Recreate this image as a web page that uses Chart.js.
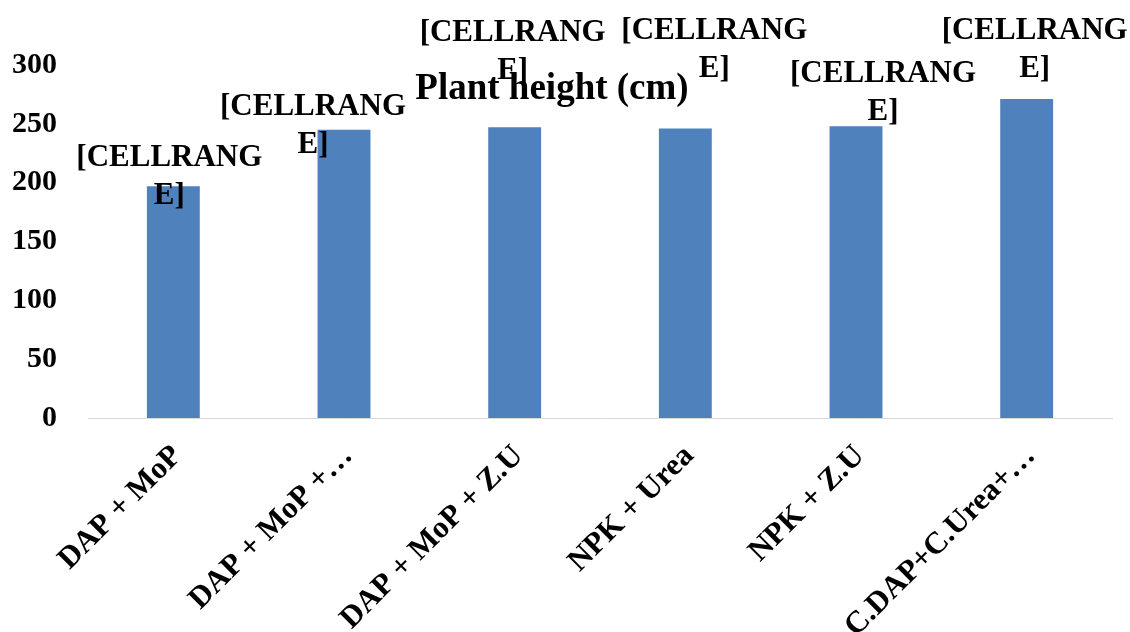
<!DOCTYPE html>
<html>
<head>
<meta charset="utf-8">
<script src="https://cdn.jsdelivr.net/npm/chart.js@4.4.0/dist/chart.umd.min.js"></script>
<style>
  html, body { margin: 0; padding: 0; background: #ffffff; }
  #wrap { width: 1130px; height: 632px; position: relative; }
</style>
</head>
<body>
<div id="wrap"><canvas id="chart" width="1130" height="632"></canvas></div>
<script>
// Treatments on the category axis
const categories = ["DAP + MoP", "DAP + MoP +…", "DAP + MoP + Z.U", "NPK + Urea", "NPK + Z.U", "C.DAP+C.Urea+…"];
// Plant height (cm) per treatment
const plantHeight = [197, 245, 247, 246, 248, 271];
// Value axis ticks
const yTicks = [0, 50, 100, 150, 200, 250, 300];
// Data label text (wrapped over two lines)
const labelLines = ["[CELLRANG", "E]"];

const SERIF = "'Liberation Serif', 'Times New Roman', serif";

// Data labels sit where they were dragged to, relative to each bar's top
const labelOffsets = [[-4, -28], [-31, -23], [-2, -94], [29, -98], [27, -52], [8, -68]];

const dataLabelPlugin = {
  id: 'cellLabels',
  afterDatasetsDraw(chart) {
    const ctx = chart.ctx;
    const meta = chart.getDatasetMeta(0);
    ctx.save();
    ctx.font = "bold 31px " + SERIF;
    ctx.fillStyle = '#000000';
    ctx.textAlign = 'center';
    ctx.textBaseline = 'middle';
    meta.data.forEach((bar, i) => {
      const [dx, dy] = labelOffsets[i];
      labelLines.forEach((line, j) => {
        ctx.fillText(line, bar.x + dx, bar.y + dy + j * 38);
      });
    });
    ctx.restore();
  }
};

const titlePlugin = {
  id: 'floatingTitle',
  afterDraw(chart) {
    const ctx = chart.ctx;
    ctx.save();
    ctx.font = "bold 37px " + SERIF;
    ctx.fillStyle = '#000000';
    ctx.textAlign = 'center';
    ctx.textBaseline = 'alphabetic';
    ctx.fillText('Plant height (cm)', 552, 99);
    ctx.restore();
  }
};

new Chart(document.getElementById('chart'), {
  type: 'bar',
  data: {
    labels: categories,
    datasets: [{
      label: 'Plant height (cm)',
      data: plantHeight,
      backgroundColor: '#4f81bd',
      borderWidth: 0,
      barPercentage: 1,
      categoryPercentage: 0.31
    }]
  },
  options: {
    responsive: false,
    animation: false,
    devicePixelRatio: 1,
    layout: {
      autoPadding: false,
      padding: { top: 65, right: 18, left: 0, bottom: 0 }
    },
    plugins: {
      legend: { display: false },
      title: { display: false },
      tooltip: { enabled: false }
    },
    scales: {
      x: {
        grid: { display: false, drawTicks: false },
        border: { display: true, color: '#d9d9d9', width: 1 },
        ticks: {
          color: '#000000',
          font: { family: SERIF, size: 31, weight: 'bold' },
          minRotation: 45,
          maxRotation: 45,
          autoSkip: false,
          padding: 20,
          labelOffset: 4
        },
        afterFit(scale) { scale.height = 214; }
      },
      y: {
        min: 0,
        max: 300,
        grid: { display: false, drawTicks: false },
        border: { display: false },
        afterBuildTicks(scale) { scale.ticks = yTicks.map(v => ({ value: v })); },
        ticks: {
          color: '#000000',
          font: { family: SERIF, size: 30, weight: 'bold' },
          padding: 31
        },
        afterFit(scale) { scale.width = 88; }
      }
    }
  },
  plugins: [dataLabelPlugin, titlePlugin]
});
</script>
</body>
</html>
